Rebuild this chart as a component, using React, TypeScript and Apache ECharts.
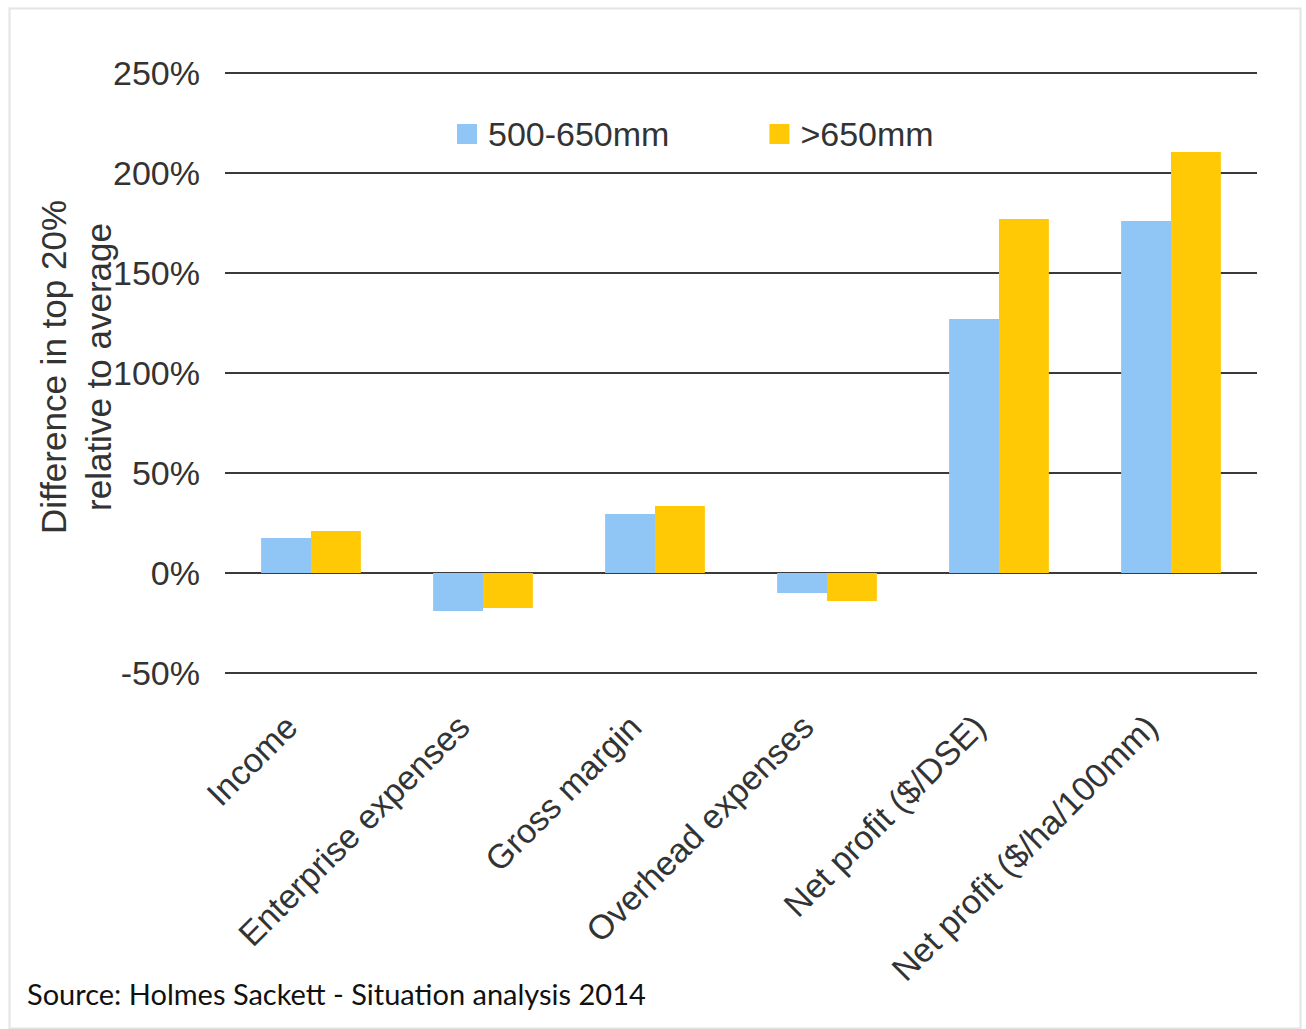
import React, { useEffect, useRef } from "react";
import * as echarts from "echarts";

const categories = [
  "Income",
  "Enterprise expenses",
  "Gross margin",
  "Overhead expenses",
  "Net profit ($/DSE)",
  "Net profit ($/ha/100mm)",
];
const seriesNames = ["500-650mm", ">650mm"];
const rainfall500to650 = [17.5, -19, 29.5, -10, 127, 176];
const rainfallOver650 = [21, -17.5, 33.5, -14, 177, 210.5];
const yTicks = { min: -50, max: 250, interval: 50 };
const yTitle = "Difference in top 20%\nrelative to average";
const sourceNote = "Source: Holmes Sackett - Situation analysis 2014";

const BLUE = "#8FC6F5";
const YELLOW = "#FFC905";
const TEXT = "#333333";
const FONT = "Liberation Sans, Arial, sans-serif";

export default function App() {
  const ref = useRef<HTMLDivElement>(null);

  useEffect(() => {
    document.body.style.margin = "0";
    if (!ref.current) return;
    const chart = echarts.init(ref.current, undefined, { renderer: "svg" });
    chart.setOption({
      animation: false,
      backgroundColor: "#ffffff",
      textStyle: { fontFamily: FONT },
      grid: { left: 225, right: 49, top: 73, bottom: 356, containLabel: false },
      legend: {
        data: seriesNames,
        left: 452,
        top: 112,
        icon: "rect",
        itemWidth: 20,
        itemHeight: 20,
        itemGap: 100,
        textStyle: {
          fontSize: 34,
          color: TEXT,
          fontFamily: FONT,
          padding: [0, 0, 0, 6],
        },
      },
      xAxis: {
        type: "category",
        data: categories,
        axisLine: { show: false, onZero: false },
        axisTick: { show: false },
        axisLabel: {
          rotate: 45,
          margin: 28,
          padding: [0, 28, 0, 0],
          fontSize: 34,
          color: TEXT,
          fontFamily: FONT,
          interval: 0,
        },
      },
      yAxis: {
        type: "value",
        min: yTicks.min,
        max: yTicks.max,
        interval: yTicks.interval,
        axisLine: { show: false },
        axisTick: { show: false },
        axisLabel: {
          formatter: (v: number) => `${v}%`,
          fontSize: 34,
          color: TEXT,
          fontFamily: FONT,
          margin: 25,
        },
        splitLine: { lineStyle: { color: "#3a3a3a", width: 2 } },
      },
      series: [
        {
          name: seriesNames[0],
          type: "bar",
          data: rainfall500to650,
          itemStyle: { color: BLUE },
          barGap: "0%",
          barCategoryGap: "42%",
        },
        {
          name: seriesNames[1],
          type: "bar",
          data: rainfallOver650,
          itemStyle: { color: YELLOW },
          barGap: "0%",
          barCategoryGap: "42%",
        },
      ],
      graphic: [
        {
          type: "rect",
          left: 7,
          top: 6,
          shape: { width: 1291, height: 1020 },
          style: { fill: "none", stroke: "#e4e4e4", lineWidth: 2 },
          silent: true,
        },
        {
          type: "text",
          x: 76,
          y: 367,
          rotation: Math.PI / 2,
          style: {
            text: yTitle,
            fontSize: 35,
            fontFamily: FONT,
            fill: TEXT,
            align: "center",
            verticalAlign: "middle",
            lineHeight: 45,
          },
        },
        {
          type: "text",
          x: 27,
          y: 993,
          style: {
            text: sourceNote,
            fontSize: 29,
            fontFamily: "Lato, Open Sans, sans-serif",
            fill: "#111111",
            align: "left",
            verticalAlign: "middle",
          },
        },
      ],
    });
    return () => chart.dispose();
  }, []);

  return <div ref={ref} style={{ width: 1306, height: 1029 }} />;
}
